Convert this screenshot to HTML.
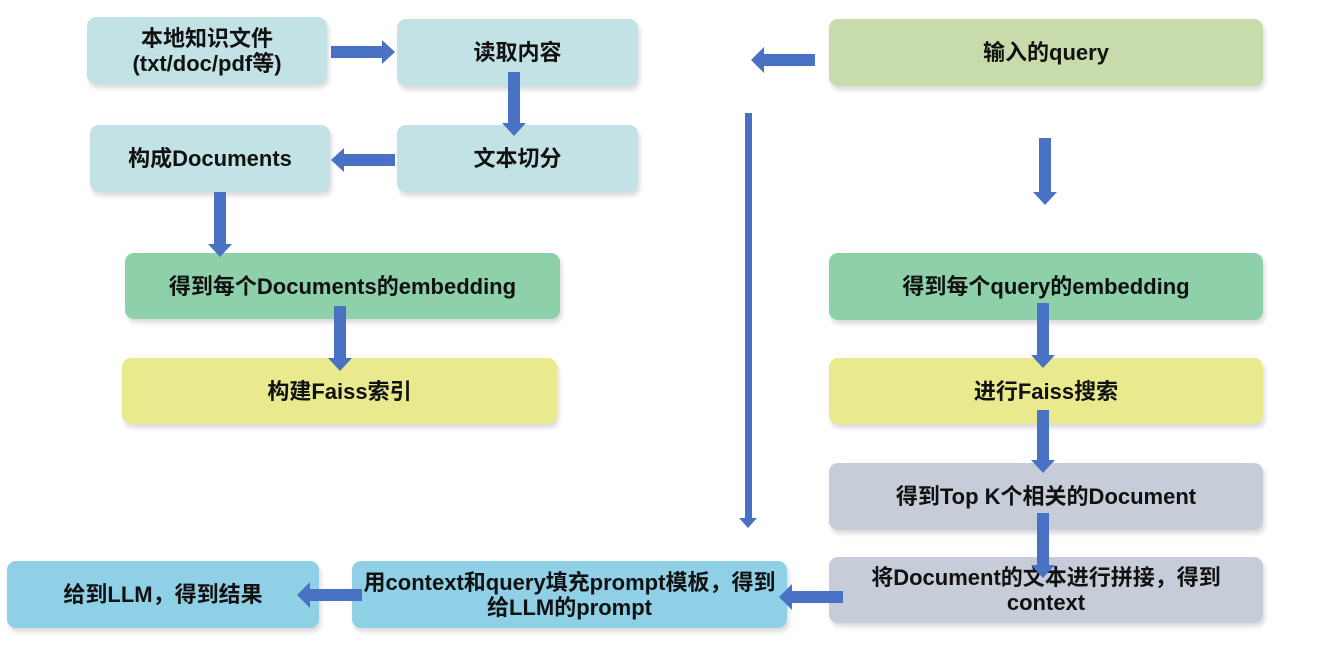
<!DOCTYPE html>
<html><head><meta charset="utf-8">
<style>
html,body{margin:0;padding:0;background:#fff;}
body{width:1327px;height:652px;position:relative;overflow:hidden;font-family:"Liberation Sans","Noto Sans CJK SC",sans-serif;}
.b{position:absolute;border-radius:9px;display:flex;align-items:center;justify-content:center;text-align:center;font-weight:bold;font-size:22px;line-height:25px;color:#111;box-shadow:2px 4px 5px rgba(0,0,0,0.14);}
.lb{background:#c2e2e6;}
.gr{background:#8dd0aa;}
.ye{background:#e9ea8d;}
.lg{background:#c8dcab;}
.gy{background:#c7ccd9;}
.bl{background:#8fd0e6;}
svg{position:absolute;left:0;top:0;}
</style></head><body>
<div class="b lb" style="left:87px;top:17px;width:240px;height:67px;">本地知识文件<br>(txt/doc/pdf等)</div>
<div class="b lb" style="left:397px;top:19px;width:241px;height:67px;">读取内容</div>
<div class="b lb" style="left:90px;top:125px;width:240px;height:67px;">构成Documents</div>
<div class="b lb" style="left:397px;top:125px;width:241px;height:67px;">文本切分</div>
<div class="b gr" style="left:125px;top:253px;width:435px;height:66px;">得到每个Documents的embedding</div>
<div class="b ye" style="left:122px;top:358px;width:435px;height:66px;">构建Faiss索引</div>
<div class="b lg" style="left:829px;top:19px;width:434px;height:67px;">输入的query</div>
<div class="b gr" style="left:829px;top:253px;width:434px;height:67px;">得到每个query的embedding</div>
<div class="b ye" style="left:829px;top:358px;width:434px;height:66px;">进行Faiss搜索</div>
<div class="b gy" style="left:829px;top:463px;width:434px;height:67px;">得到Top K个相关的Document</div>
<div class="b gy" style="left:829px;top:557px;width:434px;height:66px;">将Document的文本进行拼接，得到<br>context</div>
<div class="b bl" style="left:352px;top:561px;width:435px;height:67px;">用context和query填充prompt模板，得到<br>给LLM的prompt</div>
<div class="b bl" style="left:7px;top:561px;width:312px;height:67px;">给到LLM，得到结果</div>
<svg width="1327" height="652" viewBox="0 0 1327 652">
<g fill="#4a72c4">
<polygon points="331,46 382,46 382,40 395,52 382,64 382,58 331,58"/>
<polygon points="508,72 520,72 520,123 526,123 514,136 502,123 508,123"/>
<polygon points="395,154 344,154 344,148 331,160 344,172 344,166 395,166"/>
<polygon points="214,192 226,192 226,244 232,244 220,257 208,244 214,244"/>
<polygon points="334,306 346,306 346,358 352,358 340,371 328,358 334,358"/>
<polygon points="815,54 764,54 764,47 751,60 764,73 764,66 815,66"/>
<polygon points="745,113 752,113 752,518 757,518 748,528 739,518 745,518"/>
<polygon points="1039,138 1051,138 1051,192 1057,192 1045,205 1033,192 1039,192"/>
<polygon points="1037,303 1049,303 1049,355 1055,355 1043,368 1031,355 1037,355"/>
<polygon points="1037,410 1049,410 1049,460 1055,460 1043,473 1031,460 1037,460"/>
<polygon points="1037,513 1049,513 1049,565 1055,565 1043,578 1031,565 1037,565"/>
<polygon points="843,591 792,591 792,584 779,597 792,610 792,603 843,603"/>
<polygon points="362,589 310,589 310,582 297,595 310,608 310,601 362,601"/>
</g>
</svg>
</body></html>
